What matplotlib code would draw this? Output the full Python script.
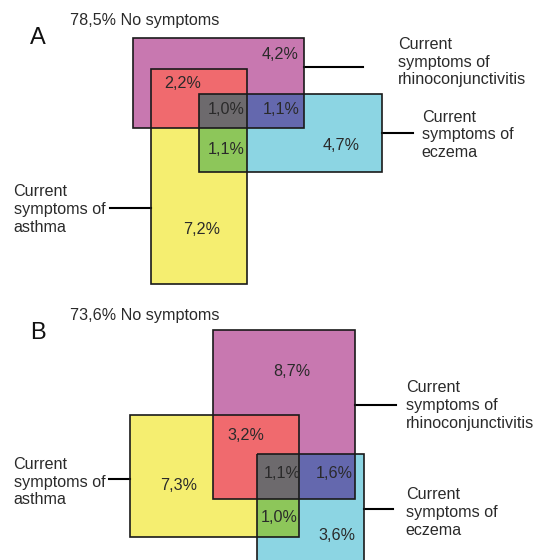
import matplotlib.pyplot as plt
from matplotlib.patches import Rectangle

plt.rcParams['font.family'] = ['Liberation Sans', 'DejaVu Sans']

# data: prevalence of symptom combinations (%), per panel
panels = ['A', 'B']
no_symptoms = [78.5, 73.6]
asthma_only = [7.2, 7.3]
rhino_only = [4.2, 8.7]
eczema_only = [4.7, 3.6]
asthma_rhino = [2.2, 3.2]
rhino_eczema = [1.1, 1.6]
asthma_eczema = [1.1, 1.0]
all_three = [1.0, 1.1]

set_labels = {
    'asthma': 'Current\nsymptoms of\nasthma',
    'rhino': 'Current\nsymptoms of\nrhinoconjunctivitis',
    'eczema': 'Current\nsymptoms of\neczema',
}

# layout (pixel space of the 533x560 picture): set rectangles x0, y0, x1, y1
layout = [
    {
        'asthma': (151.3, 69.3, 247.3, 284),
        'rhino': (132.7, 38.3, 304, 128.3),
        'eczema': (199.3, 94, 382, 172.3),
        'letter': (30, 38), 'none': (70, 20.5),
        'pos': {'asthma_only': (201.7, 230, 'center'), 'rhino_only': (298.6, 54.3, 'right'),
                'eczema_only': (341, 145, 'center'), 'asthma_rhino': (182.5, 84, 'center'),
                'rhino_eczema': (281, 109.3, 'center'), 'asthma_eczema': (226, 150, 'center'),
                'all_three': (226, 109.3, 'center')},
        # leader line end x, line y, label x, label middle-line y
        'lead': {'asthma': (109.5, 208, 13.6, 209.5), 'rhino': (363, 66.7, 398, 62),
                 'eczema': (413, 132.7, 421.8, 134.7)},
    },
    {
        'asthma': (130.3, 414.7, 298.7, 537.3),
        'rhino': (213.3, 330.3, 355.3, 499),
        'eczema': (257, 453.7, 364.3, 600),
        'letter': (30, 332.7), 'none': (70, 315.7),
        'pos': {'asthma_only': (178.9, 486, 'center'), 'rhino_only': (291.7, 371.7, 'center'),
                'eczema_only': (336.9, 535.3, 'center'), 'asthma_rhino': (246, 435.7, 'center'),
                'rhino_eczema': (333.8, 473.3, 'center'), 'asthma_eczema': (279.3, 518, 'center'),
                'all_three': (282.3, 473.3, 'center')},
        'lead': {'asthma': (109.3, 478.7, 13.6, 482.2), 'rhino': (396, 405, 405.8, 405.6),
                 'eczema': (392.7, 509, 405.8, 512.6)},
    },
]

colors = {
    'asthma': '#F5EE70', 'rhino': '#C878B0', 'eczema': '#8CD5E3',
    'asthma_rhino': '#F06A6E', 'rhino_eczema': '#6468AE',
    'asthma_eczema': '#8DC65A', 'all_three': '#6D6A6D',
}
text_col = '#2a2a2a'
fs = 11.6


def inter(*rects):
    x0 = max(r[0] for r in rects)
    y0 = max(r[1] for r in rects)
    x1 = min(r[2] for r in rects)
    y1 = min(r[3] for r in rects)
    if x1 <= x0 or y1 <= y0:
        return None
    return (x0, y0, x1, y1)


def fill(ax, r, c):
    if r is not None:
        ax.add_patch(Rectangle((r[0], r[1]), r[2] - r[0], r[3] - r[1],
                               facecolor=c, edgecolor='none', zorder=1))


def pct(v):
    return ('%.1f' % v).replace('.', ',') + '%'


fig = plt.figure(figsize=(5.33, 5.6), dpi=100)
ax = fig.add_axes([0, 0, 1, 1])
ax.set_xlim(0, 533)
ax.set_ylim(560, 0)
ax.axis('off')

for i, p in enumerate(panels):
    L = layout[i]
    a, r, e = L['asthma'], L['rhino'], L['eczema']

    # base sets then overlaps
    fill(ax, a, colors['asthma'])
    fill(ax, r, colors['rhino'])
    fill(ax, e, colors['eczema'])
    fill(ax, inter(a, r), colors['asthma_rhino'])
    fill(ax, inter(r, e), colors['rhino_eczema'])
    fill(ax, inter(a, e), colors['asthma_eczema'])
    fill(ax, inter(a, r, e), colors['all_three'])

    for rect in (a, r, e):
        ax.add_patch(Rectangle((rect[0], rect[1]), rect[2] - rect[0], rect[3] - rect[1],
                               facecolor='none', edgecolor='#1a1a1a', lw=1.2, zorder=3))

    vals = {'asthma_only': asthma_only[i], 'rhino_only': rhino_only[i],
            'eczema_only': eczema_only[i], 'asthma_rhino': asthma_rhino[i],
            'rhino_eczema': rhino_eczema[i], 'asthma_eczema': asthma_eczema[i],
            'all_three': all_three[i]}
    for k, v in vals.items():
        x, y, ha = L['pos'][k]
        ax.text(x, y, pct(v), ha=ha, va='center', fontsize=fs, color=text_col, zorder=4)

    ax.text(L['letter'][0], L['letter'][1], p, ha='left', va='center', fontsize=17, color='#111')
    ax.text(L['none'][0], L['none'][1], pct(no_symptoms[i]) + ' No symptoms',
            ha='left', va='center', fontsize=fs, color=text_col)

    # leader lines and set labels
    lx, ly, tx, ty = L['lead']['asthma']
    ax.plot([lx, a[0]], [ly, ly], color='black', lw=1.5, zorder=2)
    ax.text(tx, ty, set_labels['asthma'], ha='left', va='center', fontsize=fs,
            color=text_col, linespacing=1.22)
    lx, ly, tx, ty = L['lead']['rhino']
    ax.plot([r[2], lx], [ly, ly], color='black', lw=1.5, zorder=2)
    ax.text(tx, ty, set_labels['rhino'], ha='left', va='center',
            fontsize=fs, color=text_col, linespacing=1.22)
    lx, ly, tx, ty = L['lead']['eczema']
    ax.plot([e[2], lx], [ly, ly], color='black', lw=1.5, zorder=2)
    ax.text(tx, ty, set_labels['eczema'], ha='left', va='center',
            fontsize=fs, color=text_col, linespacing=1.22)

fig.savefig('out.png', dpi=100)
